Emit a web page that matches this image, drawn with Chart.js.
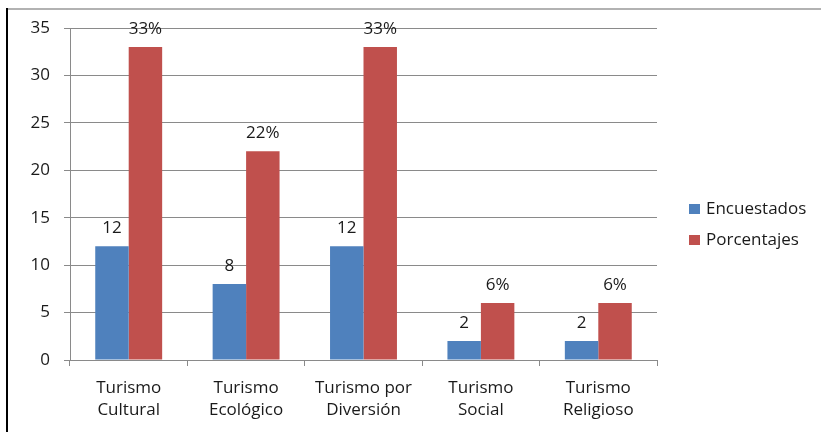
<!DOCTYPE html>
<html>
<head>
<meta charset="utf-8">
<script src="https://cdn.jsdelivr.net/npm/chart.js@4"></script>
<style>
  html, body { margin: 0; padding: 0; background: #fff; }
  #wrap { width: 821px; height: 432px; position: relative; }
</style>
</head>
<body>
<div id="wrap"><canvas id="chart" width="821" height="432"></canvas></div>
<script>
// Data
const categories = [
  ['Turismo', 'Cultural'],
  ['Turismo', 'Ecológico'],
  ['Turismo por', 'Diversión'],
  ['Turismo', 'Social'],
  ['Turismo', 'Religioso']
];
const encuestados = [12, 8, 12, 2, 2];
const porcentajes = [33, 22, 33, 6, 6];
const yTicks = [0, 5, 10, 15, 20, 25, 30, 35];
const labelSuffix = ['', '%'];

const FONT = '"Open Sans", sans-serif';
const GRID = '#8a8a8a';
const TEXT = '#1a1a1a';

// frame of the picture: black left edge, grey top edge
const framePlugin = {
  id: 'frame',
  beforeDraw(chart) {
    const c = chart.ctx;
    c.save();
    c.fillStyle = '#fff';
    c.fillRect(0, 0, chart.width, chart.height);
    c.strokeStyle = '#999';
    c.lineWidth = 1.5;
    c.beginPath();
    c.moveTo(6, 9);
    c.lineTo(chart.width, 9);
    c.stroke();
    c.strokeStyle = '#000';
    c.lineWidth = 2;
    c.beginPath();
    c.moveTo(7, 8);
    c.lineTo(7, chart.height);
    c.stroke();
    c.restore();
  }
};

// value labels above bars
const valueLabels = {
  id: 'valueLabels',
  afterDatasetsDraw(chart) {
    const c = chart.ctx;
    c.save();
    c.font = '17px ' + FONT;
    c.fillStyle = TEXT;
    c.textAlign = 'center';
    c.textBaseline = 'middle';
    chart.data.datasets.forEach((ds, i) => {
      chart.getDatasetMeta(i).data.forEach((bar, j) => {
        c.fillText(ds.data[j] + labelSuffix[i], bar.x, bar.y - 18);
      });
    });
    c.restore();
  }
};

// legend at the right, like the original
const sideLegend = {
  id: 'sideLegend',
  afterDraw(chart) {
    const c = chart.ctx;
    c.save();
    c.font = '17px ' + FONT;
    c.textBaseline = 'middle';
    chart.data.datasets.forEach((ds, i) => {
      const y = 209 + i * 31;
      c.fillStyle = ds.backgroundColor;
      c.fillRect(689, y - 5, 11, 10);
      c.fillStyle = TEXT;
      c.fillText(ds.label, 706, y);
    });
    c.restore();
  }
};

new Chart(document.getElementById('chart'), {
  type: 'bar',
  data: {
    labels: categories,
    datasets: [
      { label: 'Encuestados', data: encuestados, backgroundColor: '#4F81BD' },
      { label: 'Porcentajes', data: porcentajes, backgroundColor: '#C0504D' }
    ]
  },
  options: {
    responsive: false,
    animation: false,
    layout: { padding: { top: 28, right: 164, bottom: 0, left: 0 } },
    datasets: { bar: { categoryPercentage: 0.57, barPercentage: 1.0 } },
    plugins: {
      legend: { display: false },
      tooltip: { enabled: false }
    },
    scales: {
      x: {
        grid: { drawOnChartArea: false, color: GRID, tickLength: 6 },
        border: { color: GRID },
        ticks: { color: TEXT, font: { family: FONT, size: 17, lineHeight: 1.3 }, padding: 11, maxRotation: 0 },
        afterFit(s) { s.height = 72; }
      },
      y: {
        min: 0,
        max: 35,
        afterBuildTicks(s) { s.ticks = yTicks.map(v => ({ value: v })); },
        grid: { color: GRID, tickLength: 6 },
        border: { color: GRID },
        ticks: { color: TEXT, font: { family: FONT, size: 17 }, padding: 14 },
        afterFit(s) { s.width = 70; }
      }
    }
  },
  plugins: [framePlugin, valueLabels, sideLegend]
});
</script>
</body>
</html>
